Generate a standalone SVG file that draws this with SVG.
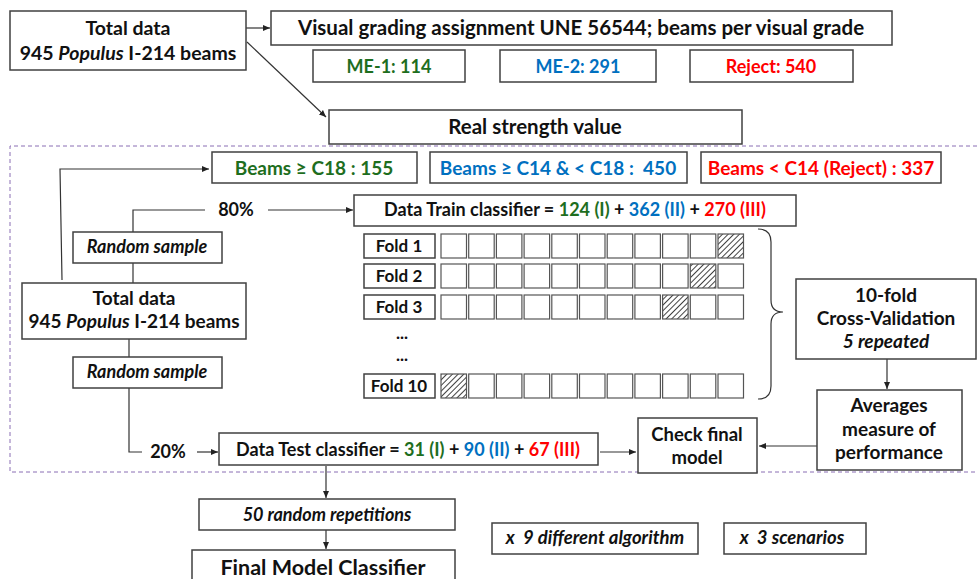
<svg xmlns="http://www.w3.org/2000/svg" width="977" height="579" viewBox="0 0 977 579">
<style>
.b{fill:#fff;stroke:#404040;stroke-width:1.5}
.c{fill:#fff;stroke:#555;stroke-width:1.2}
.t{font-family:Lato,"Liberation Sans",sans-serif;font-weight:bold;fill:#111;text-anchor:middle}
.i{font-style:italic}
.g{fill:#1e6e1e}.bl{fill:#0070c0}.r{fill:#ff0000}
.ln{fill:none;stroke:#333;stroke-width:1.2}
.ar{fill:none;stroke:#333;stroke-width:1.2;marker-end:url(#ah)}
</style>
<defs>
<marker id="ah" markerWidth="8" markerHeight="8" refX="7" refY="4" orient="auto" markerUnits="userSpaceOnUse">
<path d="M0,1 L7,4 L0,7 z" fill="#222"/>
</marker>
<pattern id="hatch" width="4" height="4" patternUnits="userSpaceOnUse" patternTransform="rotate(45)">
<rect width="4" height="4" fill="#fff"/>
<line x1="0" y1="0" x2="0" y2="4" stroke="#111" stroke-width="1.6"/>
</pattern>
</defs>

<path d="M977,146 H10 V472 H977" fill="none" stroke="#8a6fb4" stroke-width="1" stroke-dasharray="4,3"/>

<g id="connectors">
<line class="ar" x1="246" y1="28" x2="270" y2="28"/>
<line class="ar" x1="247" y1="42" x2="326" y2="117"/>
<polyline class="ar" points="62,280 60,169 209,169"/>
<polyline class="ln" points="133,232 133,210 205,210"/>
<line class="ar" x1="268" y1="210" x2="353" y2="210"/>
<line class="ln" x1="133" y1="263" x2="133" y2="283"/>
<line class="ln" x1="129" y1="339" x2="129" y2="357"/>
<polyline class="ln" points="129,388 129,452 142,452"/>
<line class="ar" x1="197" y1="452" x2="218" y2="452"/>
<line class="ar" x1="600" y1="452" x2="636" y2="452"/>
<line class="ar" x1="817" y1="446" x2="759" y2="446"/>
<line class="ar" x1="887" y1="359" x2="887" y2="389"/>
<line class="ar" x1="326" y1="466" x2="326" y2="498"/>
<line class="ar" x1="326" y1="530" x2="326" y2="549"/>
<path class="ln" d="M758,229 Q771,229 771,242 V300 Q771,312 783,312 Q771,312 771,324 V386 Q771,399 758,399"/>
</g>

<g id="total-top">
<rect class="b" x="10" y="11" width="236" height="59"/>
<text class="t" x="128" y="35" font-size="19.5">Total data</text>
<text class="t" x="128" y="60" font-size="19.5">945 <tspan class="i">Populus</tspan> I-214 beams</text>
</g>

<g id="visual">
<rect class="b" x="271" y="11" width="621" height="34"/>
<text class="t" x="581" y="35" font-size="20.5">Visual grading assignment UNE 56544; beams per visual grade</text>
</g>

<g id="me1"><rect class="b" x="313" y="50" width="152" height="32"/><text class="t g" x="389" y="73" font-size="18">ME-1: 114</text></g>
<g id="me2"><rect class="b" x="500" y="50" width="156" height="32"/><text class="t bl" x="578" y="73" font-size="18">ME-2: 291</text></g>
<g id="reject"><rect class="b" x="690" y="50" width="163" height="32"/><text class="t r" x="771" y="73" font-size="18">Reject: 540</text></g>

<g id="real"><rect class="b" x="329" y="110" width="413" height="34"/><text class="t" x="535" y="134" font-size="20.5">Real strength value</text></g>

<g id="c18"><rect class="b" x="212" y="152" width="205" height="31"/><text class="t g" x="314" y="175" font-size="19">Beams ≥ C18 : 155</text></g>
<g id="c14"><rect class="b" x="430" y="152" width="257" height="31"/><text class="t bl" x="558" y="175" font-size="19">Beams ≥ C14 &amp; &lt; C18 :&#160; 450</text></g>
<g id="c14r"><rect class="b" x="701" y="152" width="240" height="31"/><text class="t r" x="821" y="175" font-size="19">Beams &lt; C14 (Reject) : 337</text></g>

<g id="p80"><text class="t" x="236" y="216" font-size="18">80%</text></g>

<g id="train">
<rect class="b" x="354" y="195" width="442" height="31"/>
<text class="t" x="575" y="216" font-size="18">Data Train classifier = <tspan class="g">124 (I)</tspan> + <tspan class="bl">362 (II)</tspan> + <tspan class="r">270 (III)</tspan></text>
</g>

<g id="rs1"><rect class="b" x="73" y="232" width="149" height="31"/><text class="t i" x="147" y="253" font-size="18">Random sample</text></g>

<g id="total-mid">
<rect class="b" x="22" y="283" width="224" height="56"/>
<text class="t" x="134" y="305" font-size="19">Total data</text>
<text class="t" x="134" y="328" font-size="19">945 <tspan class="i">Populus</tspan> I-214 beams</text>
</g>

<g id="rs2"><rect class="b" x="73" y="357" width="149" height="31"/><text class="t i" x="147" y="378" font-size="18">Random sample</text></g>

<g id="p20"><text class="t" x="168" y="458" font-size="18">20%</text></g>

<g id="test">
<rect class="b" x="219" y="433" width="379" height="32"/>
<text class="t" x="408" y="456" font-size="18">Data Test classifier = <tspan class="g">31 (I)</tspan> + <tspan class="bl">90 (II)</tspan> + <tspan class="r">67 (III)</tspan></text>
</g>

<g id="folds">
<rect class="b" x="364" y="234" width="71" height="24"/><text class="t" x="399" y="252" font-size="17">Fold 1</text>
<rect class="b" x="364" y="264" width="71" height="24"/><text class="t" x="399" y="282" font-size="17">Fold 2</text>
<rect class="b" x="364" y="295" width="71" height="24"/><text class="t" x="399" y="313" font-size="17">Fold 3</text>
<text class="t" x="402" y="339" font-size="17">...</text>
<text class="t" x="402" y="361" font-size="17">...</text>
<rect class="b" x="364" y="374" width="71" height="24"/><text class="t" x="399" y="392" font-size="17">Fold 10</text>
</g>

<g id="grid">
<g id="row1">
<rect class="c" x="441" y="234" width="25.5" height="24"/><rect class="c" x="468.7" y="234" width="25.5" height="24"/><rect class="c" x="496.4" y="234" width="25.5" height="24"/><rect class="c" x="524.1" y="234" width="25.5" height="24"/><rect class="c" x="551.8" y="234" width="25.5" height="24"/><rect class="c" x="579.5" y="234" width="25.5" height="24"/><rect class="c" x="607.2" y="234" width="25.5" height="24"/><rect class="c" x="634.9" y="234" width="25.5" height="24"/><rect class="c" x="662.6" y="234" width="25.5" height="24"/><rect class="c" x="690.3" y="234" width="25.5" height="24"/><rect class="c" x="718" y="234" width="25.5" height="24" style="fill:url(#hatch)"/>
</g>
<g id="row2">
<rect class="c" x="441" y="264" width="25.5" height="24"/><rect class="c" x="468.7" y="264" width="25.5" height="24"/><rect class="c" x="496.4" y="264" width="25.5" height="24"/><rect class="c" x="524.1" y="264" width="25.5" height="24"/><rect class="c" x="551.8" y="264" width="25.5" height="24"/><rect class="c" x="579.5" y="264" width="25.5" height="24"/><rect class="c" x="607.2" y="264" width="25.5" height="24"/><rect class="c" x="634.9" y="264" width="25.5" height="24"/><rect class="c" x="662.6" y="264" width="25.5" height="24"/><rect class="c" x="690.3" y="264" width="25.5" height="24" style="fill:url(#hatch)"/><rect class="c" x="718" y="264" width="25.5" height="24"/>
</g>
<g id="row3">
<rect class="c" x="441" y="295" width="25.5" height="24"/><rect class="c" x="468.7" y="295" width="25.5" height="24"/><rect class="c" x="496.4" y="295" width="25.5" height="24"/><rect class="c" x="524.1" y="295" width="25.5" height="24"/><rect class="c" x="551.8" y="295" width="25.5" height="24"/><rect class="c" x="579.5" y="295" width="25.5" height="24"/><rect class="c" x="607.2" y="295" width="25.5" height="24"/><rect class="c" x="634.9" y="295" width="25.5" height="24"/><rect class="c" x="662.6" y="295" width="25.5" height="24" style="fill:url(#hatch)"/><rect class="c" x="690.3" y="295" width="25.5" height="24"/><rect class="c" x="718" y="295" width="25.5" height="24"/>
</g>
<g id="row10">
<rect class="c" x="441" y="374" width="25.5" height="24" style="fill:url(#hatch)"/><rect class="c" x="468.7" y="374" width="25.5" height="24"/><rect class="c" x="496.4" y="374" width="25.5" height="24"/><rect class="c" x="524.1" y="374" width="25.5" height="24"/><rect class="c" x="551.8" y="374" width="25.5" height="24"/><rect class="c" x="579.5" y="374" width="25.5" height="24"/><rect class="c" x="607.2" y="374" width="25.5" height="24"/><rect class="c" x="634.9" y="374" width="25.5" height="24"/><rect class="c" x="662.6" y="374" width="25.5" height="24"/><rect class="c" x="690.3" y="374" width="25.5" height="24"/><rect class="c" x="718" y="374" width="25.5" height="24"/>
</g>
</g>

<g id="cv">
<rect class="b" x="796" y="279" width="180" height="80"/>
<text class="t" x="886" y="302" font-size="19">10-fold</text>
<text class="t" x="886" y="325" font-size="19">Cross-Validation</text>
<text class="t i" x="886" y="348" font-size="19">5 repeated</text>
</g>

<g id="avg">
<rect class="b" x="817" y="390" width="145" height="80"/>
<text class="t" x="889" y="412" font-size="19">Averages</text>
<text class="t" x="889" y="436" font-size="19">measure of</text>
<text class="t" x="889" y="459" font-size="19">performance</text>
</g>

<g id="check">
<rect class="b" x="638" y="418" width="119" height="55"/>
<text class="t" x="697" y="441" font-size="18.5">Check final</text>
<text class="t" x="697" y="464" font-size="18.5">model</text>
</g>

<g id="rep"><rect class="b" x="199" y="499" width="256" height="31"/><text class="t i" x="327" y="521" font-size="18">50 random repetitions</text></g>
<g id="final"><rect class="b" x="192" y="550" width="263" height="40"/><text class="t" x="323" y="575" font-size="21.5">Final Model Classifier</text></g>
<g id="alg"><rect class="b" x="492" y="523" width="206" height="31"/><text class="t i" x="595" y="544" font-size="18.5">x&#160; 9 different algorithm</text></g>
<g id="scn"><rect class="b" x="724" y="523" width="142" height="31"/><text class="t i" x="792" y="544" font-size="18.5">x&#160; 3 scenarios</text></g>
</svg>
